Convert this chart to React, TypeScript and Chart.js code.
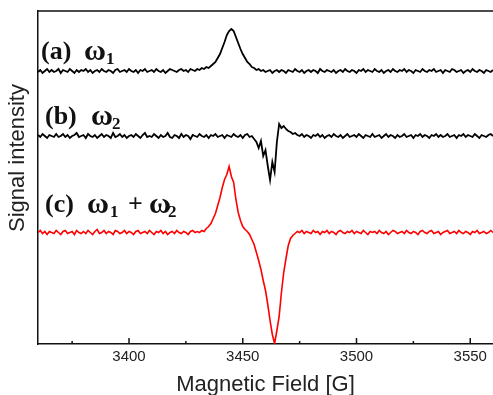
import React, { useEffect, useRef } from "react";
import { Chart, registerables } from "chart.js";

Chart.register(...registerables);

// Magnetic field sampling points [G]
const fieldG = [
  3360, 3361, 3362, 3363, 3364, 3365, 3366, 3367, 3368, 3369,
  3370, 3371, 3372, 3373, 3374, 3375, 3376, 3377, 3378, 3379,
  3380, 3381, 3382, 3383, 3384, 3385, 3386, 3387, 3388, 3389,
  3390, 3391, 3392, 3393, 3394, 3395, 3396, 3397, 3398, 3399,
  3400, 3401, 3402, 3403, 3404, 3405, 3406, 3407, 3408, 3409,
  3410, 3411, 3412, 3413, 3414, 3415, 3416, 3417, 3418, 3419,
  3420, 3421, 3422, 3423, 3424, 3425, 3426, 3427, 3428, 3429,
  3430, 3431, 3432, 3433, 3434, 3435, 3436, 3437, 3438, 3439,
  3440, 3441, 3442, 3443, 3444, 3445, 3446, 3447, 3448, 3449,
  3450, 3451, 3452, 3453, 3454, 3455, 3456, 3457, 3458, 3459,
  3460, 3461, 3462, 3463, 3464, 3465, 3466, 3467, 3468, 3469,
  3470, 3471, 3472, 3473, 3474, 3475, 3476, 3477, 3478, 3479,
  3480, 3481, 3482, 3483, 3484, 3485, 3486, 3487, 3488, 3489,
  3490, 3491, 3492, 3493, 3494, 3495, 3496, 3497, 3498, 3499,
  3500, 3501, 3502, 3503, 3504, 3505, 3506, 3507, 3508, 3509,
  3510, 3511, 3512, 3513, 3514, 3515, 3516, 3517, 3518, 3519,
  3520, 3521, 3522, 3523, 3524, 3525, 3526, 3527, 3528, 3529,
  3530, 3531, 3532, 3533, 3534, 3535, 3536, 3537, 3538, 3539,
  3540, 3541, 3542, 3543, 3544, 3545, 3546, 3547, 3548, 3549,
  3550, 3551, 3552, 3553, 3554, 3555, 3556, 3557, 3558, 3559,
  3560,
];

// (a) omega1 signal, relative to its baseline (arb. units)
const signalW1 = [
  -1, 1, -2, 0, 2, -1, 1, -1, 0, 2,
  -2, 1, 0, -1, 2, 0, -2, 1, -1, 1,
  0, 2, -1, 1, -2, 0, 1, -1, 2, 0,
  -1, 1, 0, -2, 1, 2, -1, 0, 1, -1,
  2, 0, -1, 1, -2, 1, 0, 2, -1, 0,
  1, -1, 2, 0, -1, 1, -2, 0, 2, 1,
  0, -1, 1, 2, 0, 1, -1, 2, 1, 0,
  2, 1, 3, 2, 4, 3, 5, 7, 9, 13,
  17, 23, 29, 36, 40, 42, 40, 34, 28, 22,
  17, 13, 9, 7, 4, 3, 1, 2, 0, 1,
  -1, 0, 1, -2, 0, 1, -1, 1, 0, -2,
  1, 0, -1, 2, 0, -1, 1, -2, 0, 1,
  -1, 1, 0, -2, 2, 0, -1, 1, 0, -1,
  1, -2, 0, 1, -1, 2, 0, -1, 1, 0,
  -2, 1, 0, 2, -1, 1, 0, -1, 2, 0,
  -1, 1, -2, 0, 1, -1, 2, 0, -1, 1,
  0, 2, -1, 1, 0, -2, 1, 0, -1, 2,
  0, -1, 1, 0, 2, -1, 0, 1, -2, 1,
  0, -1, 2, 1, -1, 0, 1, -2, 0, 1,
  -1, 2, 0, -1, 1, 0, -2, 1, 0, -1,
  1,
];

// (b) omega2 signal
const signalW2 = [
  1, -1, 2, 0, -2, 1, 0, -1, 2, -1,
  0, 2, -1, 1, -2, 0, 1, 3, -1, 0,
  1, -2, 2, 0, -1, 1, -2, 0, 2, -1,
  1, 0, -2, 3, -1, 0, 2, -1, 1, -2,
  0, 1, -1, 2, 0, -2, 1, 3, -1, 0,
  -1, 2, 0, -2, 1, -1, 0, 3, -1, -2,
  1, 0, -2, 2, -1, 1, 0, -3, 1, 0,
  -1, 2, 0, -1, 1, -2, 1, 0, 2, -1,
  0, 1, -2, 1, 0, -1, 2, 0, -1, 1,
  -2, 1, 2, -1, 0, -3, -6, -12, -5, -20,
  -14, -30, -44, -26, -36, -6, 12, 8, 10, 7,
  5, 4, 2, 3, 1, 0, 2, -1, 1, 0,
  -2, 1, 0, 2, -1, 1, -2, 0, 1, -1,
  2, 0, -1, 1, -2, 0, 2, -1, 0, 1,
  -1, 2, 0, -2, 1, 0, -1, 2, -1, 0,
  1, -2, 0, 2, -1, 1, 0, -2, 1, -1,
  0, 2, -1, 0, 1, -2, 1, 0, 2, -1,
  1, 0, -2, 1, 0, 2, -1, 1, -1, 0,
  2, -1, 0, 1, -2, 1, 0, 2, -1, 1,
  0, -1, 2, 0, -2, 1, 0, -1, 1, 2,
  0,
];

// (c) omega1 + omega2 signal
const signalSum = [
  0, 2, -1, 1, -2, 1, 0, -1, 2, 0,
  -2, 1, 2, -1, 0, 1, -2, 2, 0, -1,
  1, -1, 2, 0, -2, 1, 3, -1, 0, 2,
  -1, 1, 0, -2, 2, 1, -1, 0, 2, -1,
  1, 0, -2, 1, 2, -1, 0, 1, -1, 2,
  0, -2, 1, 0, 2, -1, 1, -2, 0, 1,
  -1, 2, 0, -1, 1, 0, -2, 1, 2, 0,
  1, 0, 2, 1, 4, 6, 9, 14, 19, 27,
  35, 45, 53, 58, 66, 56, 50, 33, 20, 12,
  6, 3, 1, -2, -7, -12, -20, -28, -37, -48,
  -58, -72, -88, -102, -111, -98, -84, -60, -40, -26,
  -13, -6, -3, -1, 1, 0, 2, -1, 1, 0,
  -1, 2, 0, 1, -2, 1, 0, 2, -1, 1,
  0, -2, 1, 2, 0, -1, 1, 0, 2, -1,
  1, 0, -1, 2, 0, -2, 1, 0, 1, -1,
  2, 0, -1, 1, -2, 0, 2, 1, -1, 0,
  1, -1, 2, 0, -1, 1, 0, -2, 1, 2,
  0, -1, 1, 2, -1, 0, 1, -2, 0, 1,
  2, -1, 0, 1, -1, 2, 0, -1, 1, 0,
  -2, 1, 0, 2, -1, 0, 1, -1, 0, 2,
  0,
];

// vertical offsets of the stacked traces (a), (b), (c)
const baselines = [273, 208, 111.5];
const traceColors = ["#000000", "#000000", "#ff0000"];

// tick values on the field axis
const majorTicks = [3400, 3450, 3500, 3550];
const minorTicks = [3375, 3425, 3475, 3525];

// trace annotations: [text, "m" = main / "w" = greek / "s" = subscript]
const labelA = [["(a)", "m"], ["ω", "w"], ["1", "s"]];
const labelB = [["(b)", "m"], ["ω", "w"], ["2", "s"]];
const labelC = [["(c)", "m"], ["ω", "w"], ["1", "s"], ["+", "m"], ["ω", "w"], ["2", "s"]];

const xTitle = "Magnetic Field [G]";
const yTitle = "Signal intensity";

const decorPlugin = {
  id: "decor",
  afterDraw(chart: any) {
    const ctx = chart.ctx;
    const area = chart.chartArea;
    const xs = chart.scales.x;
    ctx.save();
    // top frame line
    ctx.strokeStyle = "#111";
    ctx.lineWidth = 1.5;
    ctx.beginPath();
    ctx.moveTo(area.left - 0.75, area.top);
    ctx.lineTo(area.right, area.top);
    ctx.stroke();
    // inward ticks
    const drawTick = (v: number, len: number) => {
      const px = xs.getPixelForValue(v);
      ctx.beginPath();
      ctx.moveTo(px, area.bottom);
      ctx.lineTo(px, area.bottom - len);
      ctx.stroke();
    };
    majorTicks.forEach((v) => drawTick(v, 6));
    minorTicks.forEach((v) => drawTick(v, 3));

    // y title
    ctx.fillStyle = "#222";
    ctx.font = "22px 'Liberation Sans', Arial, sans-serif";
    ctx.textAlign = "center";
    ctx.textBaseline = "middle";
    ctx.translate(18, 158);
    ctx.rotate(-Math.PI / 2);
    ctx.fillText(yTitle, 0, 0);
    ctx.restore();

    // trace labels
    ctx.save();
    ctx.fillStyle = "#111";
    ctx.textAlign = "left";
    ctx.textBaseline = "alphabetic";
    const put = (segs: string[][], xsPos: number[], base: number) => {
      segs.forEach((s, i) => {
        if (s[1] === "s") {
          ctx.font = "bold 17px 'Liberation Serif', 'Times New Roman', serif";
          ctx.fillText(s[0], xsPos[i], base + 5);
        } else if (s[1] === "w") {
          ctx.font = "bold 30px 'Liberation Serif', 'Times New Roman', serif";
          ctx.fillText(s[0], xsPos[i], base + 1);
        } else {
          ctx.font = "bold 26px 'Liberation Serif', 'Times New Roman', serif";
          ctx.fillText(s[0], xsPos[i], base);
        }
      });
    };
    put(labelA, [41, 84, 106], 59);
    put(labelB, [45, 91, 112], 124);
    put(labelC, [45, 87, 110, 128, 149, 168], 212);
    ctx.restore();
  },
};

export default function App() {
  const canvasRef = useRef<HTMLCanvasElement | null>(null);

  useEffect(() => {
    if (!canvasRef.current) return;
    const series = [signalW1, signalW2, signalSum];
    const datasets = series.map((sig, k) => ({
      label: ["(a)", "(b)", "(c)"][k],
      data: fieldG.map((f, i) => ({ x: f, y: baselines[k] + sig[i] })),
      borderColor: traceColors[k],
      borderWidth: k === 2 ? 1.6 : 1.8,
      pointRadius: 0,
      tension: 0,
      fill: false,
    }));

    const chart = new Chart(canvasRef.current, {
      type: "line",
      data: { datasets },
      plugins: [decorPlugin],
      options: {
        animation: false,
        responsive: true,
        maintainAspectRatio: false,
        devicePixelRatio: 1,
        layout: { padding: { top: 11, right: 0, left: 0, bottom: 0 } },
        plugins: {
          legend: { display: false },
          tooltip: { enabled: false },
        },
        scales: {
          x: {
            type: "linear",
            min: 3360,
            max: 3560,
            grid: { display: false, drawTicks: false },
            border: { display: true, color: "#111", width: 1.5 },
            ticks: {
              padding: 4,
              color: "#222",
              font: { family: "'Liberation Sans', Arial, sans-serif", size: 15 },
              callback: (v: any) => String(v),
            },
            afterBuildTicks: (s: any) => {
              s.ticks = majorTicks.map((v) => ({ value: v }));
            },
            title: {
              display: true,
              text: xTitle,
              color: "#222",
              font: { family: "'Liberation Sans', Arial, sans-serif", size: 22, lineHeight: 0.9 },
              padding: { top: 0, bottom: 0 },
            },
            afterFit: (s: any) => {
              s.height = 51;
              s.paddingRight = 0;
              s.paddingLeft = 0;
            },
          },
          y: {
            type: "linear",
            min: 0,
            max: 333,
            grid: { display: false, drawTicks: false },
            border: { display: true, color: "#111", width: 1.5 },
            ticks: { display: false },
            afterFit: (s: any) => {
              s.width = 38;
            },
          },
        },
      },
    } as any);
    return () => chart.destroy();
  }, []);

  return (
    <div style={{ position: "fixed", left: 0, top: 0, width: 493, height: 395, background: "#fff" }}>
      <canvas ref={canvasRef} />
    </div>
  );
}
